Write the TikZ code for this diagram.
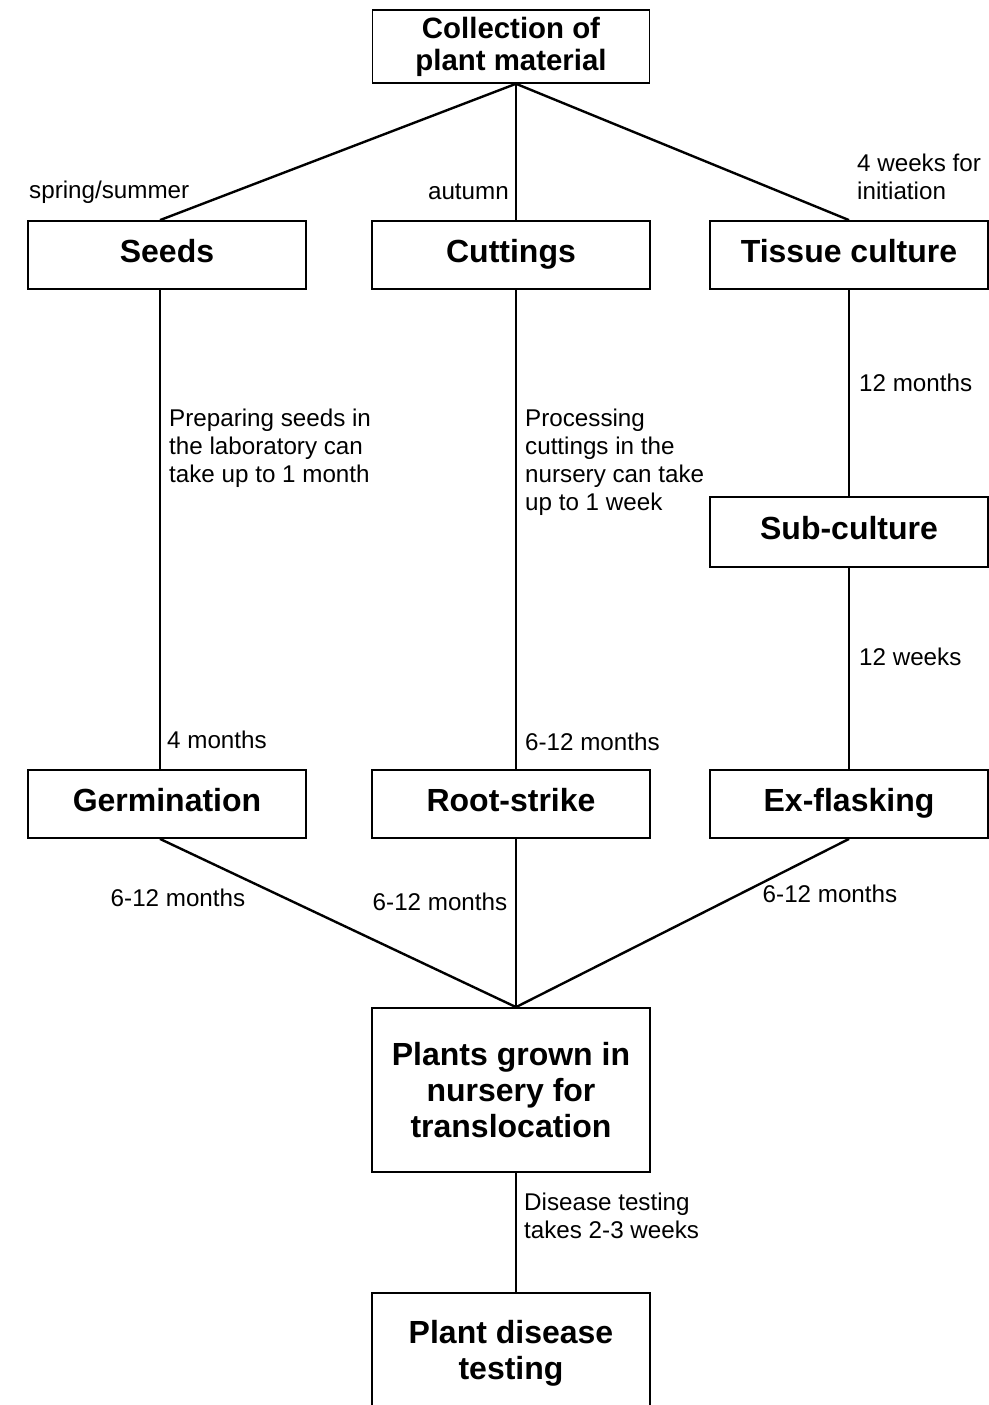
\documentclass[tikz,border=0pt]{standalone}
\usepackage{fontspec}
\setmainfont{Liberation Sans}
\usetikzlibrary{positioning}

\begin{document}
\begin{tikzpicture}[
	x=0.5pt,
	y=-0.5pt,
	on grid,
	line width=1.2pt,
	box/.style={
		rectangle,
		draw,
		line width=0.9pt,
		minimum width=139pt,
		minimum height=34pt,
		align=center,
		font=\fontsize{16}{18}\selectfont\bfseries
	},
	single/.style={
		box,
		text height=11.6pt,
		text depth=4pt
	},
	note/.style={
		inner sep=0pt,
		align=left,
		font=\fontsize{12.1}{14}\selectfont
	}]

	\useasboundingbox (0,0) rectangle (989,1405);

	% boxes
	\node[single] (seeds) at (167,255) {Seeds};
	\node[single, right=172pt of seeds] (cuttings) {Cuttings};
	\node[single, right=169pt of cuttings] (tissue) {Tissue culture};
	\node[box, above=104.25pt of cuttings, minimum height=34.5pt, minimum width=138.5pt,
		font=\fontsize{14.7}{16}\selectfont\bfseries] (top) {Collection of\\plant material};
	\node[single, below=138.5pt of tissue, minimum height=35pt] (sub) {Sub-culture};
	\node[single, below=274.5pt of seeds] (germ) {Germination};
	\node[single, below=274.5pt of cuttings] (root) {Root-strike};
	\node[single, below=274.5pt of tissue] (exfl) {Ex-flasking};
	\node[box, below=143pt of root, minimum height=82pt] (plants) {Plants grown in\\nursery for\\translocation};
	\node[box, below=131.5pt of plants, minimum height=60pt] (test) {Plant disease\\testing};

	% connectors
	\path[draw]
		([xshift=2.5pt]top.south) edge ([xshift=-3.5pt]seeds.north)
		([xshift=2.5pt]top.south) edge ([xshift=2.5pt]cuttings.north)
		([xshift=2.5pt]top.south) edge (tissue.north)
		([xshift=-3.5pt]seeds.south) edge ([xshift=-3.5pt]germ.north)
		([xshift=2.5pt]cuttings.south) edge ([xshift=2.5pt]root.north)
		(tissue.south) edge (sub.north)
		(sub.south) edge (exfl.north)
		([xshift=-3.5pt]germ.south) edge ([xshift=2.5pt]plants.north)
		([xshift=2.5pt]root.south) edge ([xshift=2.5pt]plants.north)
		(exfl.south) edge ([xshift=2.5pt]plants.north)
		([xshift=2.5pt]plants.south) edge ([xshift=2.5pt]test.north);

	% timing notes
	\node[note, anchor=west] (season1) at (28,192) {spring/summer};
	\node[note, anchor=east] (season2) at (510,192) {autumn};
	\node[note, anchor=west] (init) at (856,177) {4 weeks for\\initiation};
	\node[note, anchor=west] (tc12) at (858,383) {12 months};
	\node[note, anchor=west] (prep) at (168,448) {Preparing seeds in\\the laboratory can\\take up to 1 month};
	\node[note, anchor=west] (proc) at (524,462) {Processing\\cuttings in the\\nursery can take\\up to 1 week};
	\node[note, anchor=west] (sc12) at (858,657) {12 weeks};
	\node[note, anchor=west] (germ4) at (166,740) {4 months};
	\node[note, anchor=west] (rootm) at (524,742) {6-12 months};
	\node[note] (grow1) at (178,898) {6-12 months};
	\node[note] (grow2) at (440,902) {6-12 months};
	\node[note] (grow3) at (830,894) {6-12 months};
	\node[note, anchor=west] (dis) at (523,1216) {Disease testing\\takes 2-3 weeks};
\end{tikzpicture}
\end{document}
